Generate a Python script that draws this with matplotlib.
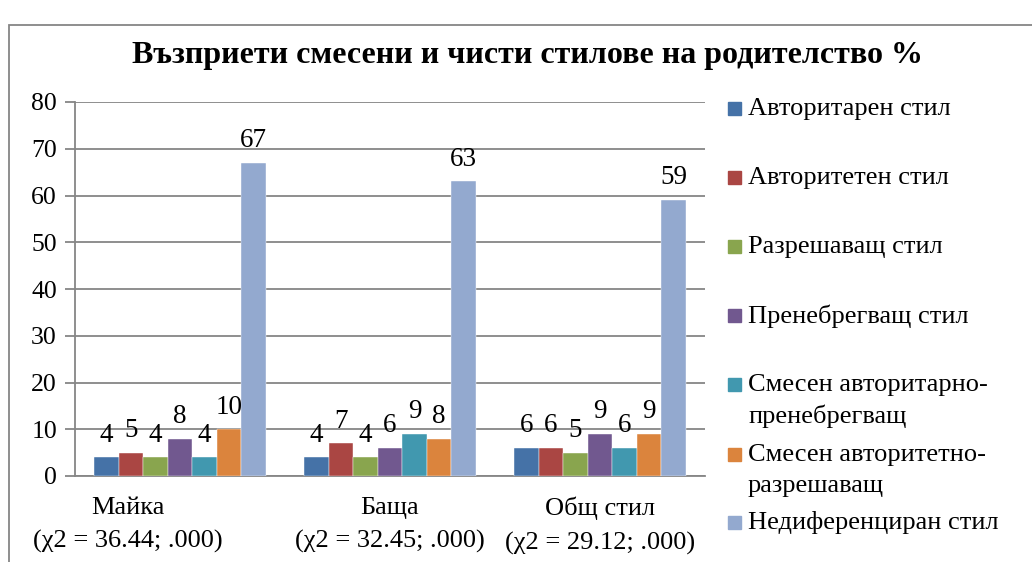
import matplotlib
matplotlib.use("Agg")
import matplotlib.pyplot as plt
from matplotlib.patches import Rectangle
from matplotlib.transforms import ScaledTranslation
import numpy as np

plt.rcParams['font.family'] = ['Liberation Serif', 'DejaVu Serif']

# data
categories = ["Майка\n(χ2 = 36.44; .000)",
              "Баща\n(χ2 = 32.45; .000)",
              "Общ стил\n(χ2 = 29.12; .000)"]
series_names = ["Авторитарен стил",
                "Авторитетен стил",
                "Разрешаващ стил",
                "Пренебрегващ стил",
                "Смесен авторитарно-\nпренебрегващ",
                "Смесен авторитетно-\nразрешаващ",
                "Недиференциран стил"]
avtoritaren = [4, 4, 6]
avtoritet = [5, 7, 6]
razreshavasht = [4, 4, 5]
prenebregvasht = [8, 6, 9]
smesen_ap = [4, 9, 6]
smesen_ar = [10, 8, 9]
nediferenciran = [67, 63, 59]
values = [avtoritaren, avtoritet, razreshavasht, prenebregvasht,
          smesen_ap, smesen_ar, nediferenciran]
colors = ["#4572A7", "#AA4643", "#89A54E", "#71588F",
          "#4198AF", "#DB843D", "#93A9CF"]

W, H = 1032, 562
fig = plt.figure(figsize=(W / 100, H / 100), dpi=100)
ax = fig.add_axes([75 / W, 1 - 476 / H, 630 / W, 374 / H])

x = np.arange(len(categories))
n = len(values)
bw = 0.117
for i, (vals, c) in enumerate(zip(values, colors)):
    pos = x + (i - (n - 1) / 2) * bw
    bars = ax.bar(pos, vals, bw, color=c, edgecolor='white', linewidth=0.3, zorder=3)
    for b, v in zip(bars, vals):
        ax.annotate(f"{v}", (b.get_x() + b.get_width() / 2, v),
                    xytext=(0, 7), textcoords='offset points',
                    ha='center', va='bottom', fontsize=19.5, zorder=4)

ax.set_xlim(-0.5, len(categories) - 0.5)
ax.set_ylim(0, 80)
ax.set_yticks(range(0, 81, 10))
ax.yaxis.grid(True, color='#868686', linewidth=1.3, zorder=0)
ax.set_axisbelow(True)
for s in ['top', 'right']:
    ax.spines[s].set_visible(False)
for s in ['left', 'bottom']:
    ax.spines[s].set_color('#868686')
    ax.spines[s].set_linewidth(1.3)
ax.tick_params(axis='y', length=7, width=1.3, color='#868686', labelsize=18.5, pad=6)
ax.tick_params(axis='x', length=0, labelsize=19, pad=15)
ax.set_xticks(x)
ax.set_xticklabels(categories, linespacing=1.65)
first = ax.get_xticklabels()[0]
first.set_transform(first.get_transform() + ScaledTranslation(-0.52, 0, fig.dpi_scale_trans))

fig.text(528 / W, 1 - 56 / H, "Възприети смесени и чисти стилове на родителство %",
         ha='center', va='center', fontsize=23, fontweight='bold')

# legend drawn by hand to follow the spacing of the original
leg_y = [109, 178, 247, 316, 385, 455, 523]
for name, c, yy in zip(series_names, colors, leg_y):
    fig.patches.append(Rectangle((728 / W, 1 - (yy + 6) / H), 13 / W, 13 / H,
                                 transform=fig.transFigure, color=c, figure=fig))
    for k, line in enumerate(name.split("\n")):
        fig.text(748 / W, 1 - (yy + k * 31) / H, line, ha='left', va='center',
                 fontsize=19)

# chart frame
fig.patches.append(Rectangle((9 / W, -0.1), 1.2, 1.1 - 25 / H, transform=fig.transFigure,
                             fill=False, edgecolor='#868686', linewidth=1.3, figure=fig))

fig.savefig("out.png", dpi=100)
